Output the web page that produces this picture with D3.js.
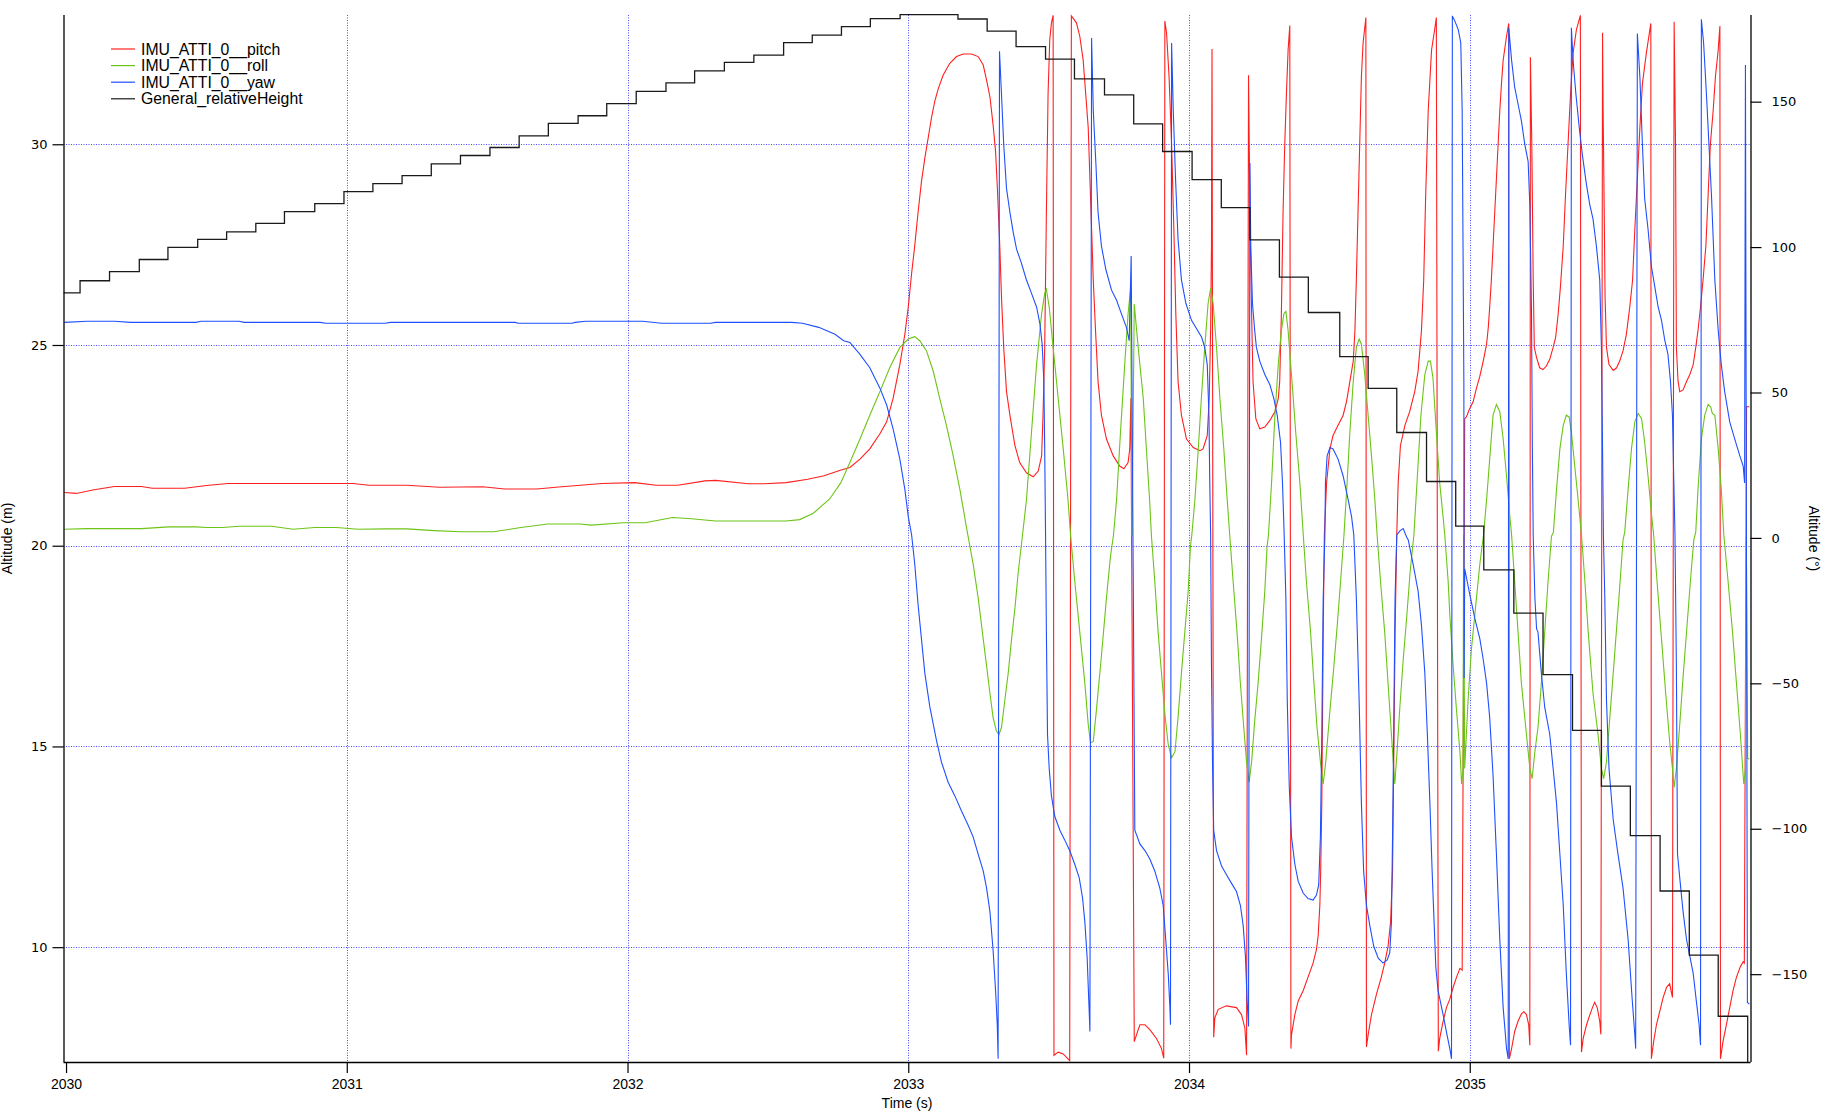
<!DOCTYPE html>
<html><head><meta charset="utf-8">
<script src="https://cdn.jsdelivr.net/npm/d3@7/dist/d3.min.js"></script>
<style>html,body{margin:0;padding:0;background:#fff}svg{display:block}</style>
</head><body>
<script>
const xTicks=[2030,2031,2032,2033,2034,2035];
const leftTicks=[10,15,20,25,30];
const rightTicks=[-150,-100,-50,0,50,100,150];
const seriesNames=["IMU_ATTI_0__pitch","IMU_ATTI_0__roll","IMU_ATTI_0__yaw","General_relativeHeight"];

const heightData=[[2029.99,26.30],[2030.050,26.60],[2030.155,26.83],[2030.261,27.13],[2030.363,27.43],[2030.469,27.63],[2030.572,27.82],[2030.676,28.03],[2030.778,28.32],[2030.886,28.52],[2030.990,28.82],[2031.093,29.02],[2031.197,29.22],[2031.301,29.51],[2031.405,29.72],[2031.510,29.92],[2031.614,30.21],[2031.718,30.52],[2031.824,30.71],[2031.926,31.01],[2032.031,31.32],[2032.137,31.53],[2032.239,31.83],[2032.345,32.04],[2032.450,32.22],[2032.556,32.53],[2032.658,32.72],[2032.762,32.93],[2032.865,33.13],[2032.971,33.23],[2033.177,33.12],[2033.281,32.82],[2033.384,32.43],[2033.489,32.12],[2033.592,31.63],[2033.699,31.23],[2033.803,30.51],[2033.906,29.82],[2034.011,29.12],[2034.115,28.42],[2034.217,27.62],[2034.322,26.69],[2034.425,25.81],[2034.537,24.71],[2034.638,23.92],[2034.740,22.82],[2034.846,21.60],[2034.950,20.49],[2035.050,19.40],[2035.157,18.32],[2035.261,16.79],[2035.366,15.40],[2035.469,14.01],[2035.572,12.78],[2035.678,11.40],[2035.782,9.80],[2035.885,8.28],[2035.990,6.9],[2036.0,6.9]];

const pitchData=[[2029.994,15.6],[2030.037,15.3],[2030.095,16.5],[2030.172,17.7],[2030.269,17.7],[2030.307,17.1],[2030.423,17.1],[2030.500,18.0],[2030.577,18.7],[2030.925,18.7],[2031.021,18.7],[2031.079,18.1],[2031.214,18.1],[2031.330,17.4],[2031.484,17.6],[2031.562,16.8],[2031.677,16.8],[2031.755,17.5],[2031.832,18.1],[2031.909,18.7],[2032.025,19.0],[2032.102,18.1],[2032.179,18.1],[2032.276,19.6],[2032.314,19.8],[2032.430,18.6],[2032.488,18.6],[2032.565,19.0],[2032.642,20.2],[2032.700,21.4],[2032.758,23.3],
[2032.792,24.2],[2032.828,27.1],[2032.863,30.6],[2032.899,35.8],[2032.923,39.9],[2032.946,48.0],[2032.970,59.6],[2032.988,70.1],[2033.000,79.4],[2033.012,91.0],[2033.023,100.4],[2033.035,112.0],[2033.047,122.5],[2033.059,130.6],[2033.071,137.6],[2033.083,144.6],[2033.095,150.4],[2033.107,154.5],[2033.124,159.1],[2033.148,163.2],[2033.172,165.5],[2033.196,166.4],[2033.225,166.4],[2033.249,165.5],[2033.267,162.6],[2033.279,157.4],[2033.291,151.6],[2033.302,142.2],[2033.311,132.9],[2033.318,119.0],[2033.326,100.4],[2033.332,82.9],[2033.340,65.5],[2033.350,50.3],[2033.362,42.2],[2033.380,31.7],[2033.397,25.9],[2033.421,22.4],[2033.445,21.0],[2033.463,23.0],[2033.475,28.2],[2033.480,42.2],[2033.486,65.5],[2033.492,112.0],[2033.498,152.7],[2033.504,171.3],[2033.510,177.1],[2033.516,179.7],
[2033.519,-177.9],[2033.534,-176.8],[2033.552,-177.4],[2033.569,-179.1],[2033.575,-179.7],
[2033.581,179.5],[2033.599,177.1],[2033.611,172.5],[2033.623,164.3],[2033.632,152.7],[2033.641,141.1],[2033.647,123.6],[2033.653,106.2],[2033.659,88.7],[2033.667,71.3],[2033.676,53.8],[2033.688,42.2],[2033.706,34.0],[2033.730,28.2],[2033.753,24.7],[2033.768,23.8],[2033.783,25.9],[2033.789,30.6],[2033.793,48.0],
[2033.805,-173.2],[2033.825,-167.4],[2033.843,-167.4],[2033.8605,-169.1],[2033.884,-172.1],[2033.902,-175.6],[2033.910,-178.9],
[2033.914,177.7],[2033.920,173.7],[2033.929,158.5],[2033.938,135.3],[2033.946,106.2],[2033.953,77.1],[2033.961,53.8],[2033.973,42.2],[2033.991,34.0],[2034.015,31.1],[2034.039,30.0],[2034.050,30.6],[2034.065,35.2],[2034.072,48.0],[2034.077,71.3],[2034.080,100.4],[2034.081,135.3],[2034.082,168.1],
[2034.088,-171.7],[2034.092,-165.0],[2034.104,-162.1],[2034.133,-160.9],[2034.169,-161.5],[2034.187,-163.9],[2034.199,-168.5],[2034.205,-177.9],
[2034.212,159.1],[2034.217,112.0],[2034.223,77.1],[2034.228,53.8],[2034.238,41.0],[2034.252,37.5],[2034.270,38.1],[2034.288,40.4],[2034.306,43.4],[2034.318,48.0],[2034.323,53.8],[2034.329,77.1],[2034.335,112.0],[2034.341,135.3],[2034.347,152.7],[2034.353,167.8],[2034.359,176.2],
[2034.363,-175.6],[2034.365,-170.9],[2034.377,-163.9],[2034.389,-159.2],[2034.407,-155.6],[2034.424,-151.0],[2034.442,-146.2],[2034.454,-141.5],[2034.460,-136.9],[2034.466,-126.3],[2034.469,-114.5],[2034.473,-91.1],[2034.475,-67.6],[2034.478,-32.4],[2034.482,1.0],[2034.490,18.9],[2034.502,30.6],[2034.513,35.2],[2034.531,38.7],[2034.549,42.2],[2034.561,46.9],[2034.573,53.8],[2034.585,60.8],[2034.591,71.3],[2034.596,88.7],[2034.602,112.0],[2034.608,135.3],[2034.614,158.5],[2034.620,170.2],[2034.630,178.9],
[2034.632,-175.0],[2034.638,-170.9],[2034.650,-163.9],[2034.668,-156.8],[2034.685,-151.0],[2034.697,-146.2],[2034.709,-140.4],[2034.718,-132.1],[2034.725,-114.5],[2034.729,-79.3],[2034.734,-32.4],[2034.740,1.0],[2034.745,18.9],[2034.753,31.7],[2034.769,38.7],[2034.786,43.4],[2034.804,50.3],[2034.816,57.3],[2034.828,71.3],[2034.836,88.7],[2034.843,117.8],[2034.852,146.9],[2034.864,167.8],[2034.875,174.8],[2034.881,178.9],
[2034.888,-176.5],[2034.893,-172.1],[2034.905,-166.2],[2034.917,-161.5],[2034.929,-158.6],[2034.941,-154.5],[2034.953,-151.0],[2034.965,-148.0],[2034.973,-148.6],
[2034.982,41.0],[2034.988,41.6],[2035.000,44.5],[2035.012,46.8],[2035.024,51.5],[2035.036,55.6],[2035.048,60.8],[2035.060,66.6],[2035.066,72.4],[2035.071,79.4],[2035.077,88.7],[2035.083,100.4],[2035.089,112.0],[2035.095,123.6],[2035.101,135.3],[2035.107,146.9],[2035.113,156.2],[2035.119,164.3],[2035.131,172.5],[2035.139,176.9],
[2035.141,-179.1],[2035.149,-175.6],[2035.160,-169.7],[2035.172,-166.2],[2035.184,-163.6],[2035.193,-162.9],[2035.202,-163.9],[2035.210,-167.4],[2035.214,-174.4],
[2035.216,165.3],[2035.221,135.3],[2035.226,88.7],[2035.230,65.5],[2035.238,62.0],[2035.249,58.5],[2035.261,57.9],[2035.273,59.1],[2035.285,61.4],[2035.297,65.5],[2035.306,69.0],[2035.315,77.1],[2035.323,86.4],[2035.333,100.4],[2035.341,117.8],[2035.350,135.3],[2035.359,152.7],[2035.368,166.7],[2035.380,174.8],[2035.394,179.7],
[2035.398,-176.8],[2035.404,-172.1],[2035.416,-167.4],[2035.428,-163.9],[2035.437,-161.5],[2035.445,-159.7],[2035.454,-161.5],[2035.463,-166.2],[2035.467,-170.7],
[2035.473,173.7],[2035.475,146.9],[2035.479,112.0],[2035.482,82.9],[2035.487,65.5],[2035.496,59.6],[2035.511,57.6],[2035.523,58.5],[2035.534,60.8],[2035.546,64.3],[2035.558,70.1],[2035.570,79.4],[2035.580,88.7],[2035.588,106.2],[2035.597,123.6],[2035.606,141.1],[2035.615,156.2],[2035.629,166.7],[2035.645,176.9],
[2035.647,-179.1],[2035.655,-173.2],[2035.665,-167.4],[2035.677,-162.7],[2035.689,-158.0],[2035.701,-154.5],[2035.712,-153.3],[2035.722,-158.0],
[2035.728,177.5],[2035.733,135.3],[2035.736,65.5],[2035.742,53.8],[2035.748,50.3],[2035.760,50.9],[2035.772,53.8],[2035.784,56.2],[2035.796,59.6],[2035.805,65.5],[2035.813,71.3],[2035.822,79.4],[2035.831,88.7],[2035.841,100.4],[2035.849,117.8],[2035.857,135.3],[2035.867,146.9],[2035.875,158.5],[2035.885,167.8],[2035.891,176.0],
[2035.893,-179.1],[2035.902,-173.2],[2035.914,-167.4],[2035.926,-161.5],[2035.938,-155.6],[2035.950,-151.0],[2035.964,-147.4],[2035.974,-145.7],[2035.978,-146.2],[2035.986,45.1],[2035.996,45.1]];

const rollData=[[2029.994,3.0],[2030.076,3.2],[2030.269,3.2],[2030.365,3.8],[2030.462,3.8],[2030.500,3.6],[2030.558,3.6],[2030.616,4.0],[2030.732,4.0],[2030.809,3.0],[2030.886,3.6],[2030.963,3.6],[2031.041,3.0],[2031.137,3.1],[2031.214,3.1],[2031.311,2.5],[2031.407,2.1],[2031.523,2.1],[2031.620,3.6],[2031.716,4.8],[2031.832,4.8],[2031.870,4.4],[2031.986,5.2],[2032.063,5.2],[2032.160,7.0],[2032.218,6.7],[2032.314,5.8],[2032.565,5.8],[2032.613,6.3],[2032.662,8.5],[2032.720,13.4],[2032.760,19.0],
[2032.792,25.9],[2032.828,34.0],[2032.863,42.2],[2032.899,50.3],[2032.934,58.5],[2032.970,65.5],[2033.000,68.4],[2033.023,69.2],[2033.041,67.8],[2033.065,64.3],[2033.089,57.3],[2033.112,48.0],[2033.136,38.7],[2033.160,28.2],[2033.184,16.6],[2033.207,3.8],[2033.231,-8.9],[2033.249,-20.6],[2033.267,-34.7],[2033.279,-44.1],[2033.291,-53.5],[2033.302,-61.7],[2033.314,-66.4],[2033.323,-67.6],[2033.332,-65.2],[2033.344,-55.8],[2033.356,-46.5],[2033.368,-34.7],[2033.380,-24.1],[2033.391,-12.4],[2033.407,1.0],[2033.421,13.1],[2033.439,36.4],[2033.457,59.6],[2033.475,77.1],[2033.486,84.1],[2033.492,85.5],[2033.502,79.4],[2033.516,65.5],[2033.534,48.0],[2033.552,30.6],[2033.569,13.1],[2033.578,1.0],[2033.593,-14.8],[2033.611,-32.4],[2033.629,-50.0],[2033.641,-64.1],[2033.649,-70.5],[2033.659,-70.0],[2033.670,-59.4],[2033.688,-40.6],[2033.706,-20.6],[2033.720,-6.5],[2033.731,1.0],[2033.742,13.1],[2033.756,36.4],[2033.771,59.6],[2033.783,77.1],[2033.792,85.8],[2033.797,0.5],[2033.805,80.4],[2033.819,65.5],[2033.837,48.0],[2033.852,24.7],[2033.860,12.5],[2033.866,1.0],[2033.878,-14.8],[2033.890,-32.4],[2033.902,-46.5],[2033.914,-60.5],[2033.926,-71.1],[2033.938,-75.6],[2033.950,-73.5],[2033.961,-61.7],[2033.973,-46.5],[2033.985,-32.4],[2033.997,-18.3],[2034.005,-3.0],[2034.010,1.0],[2034.021,13.1],[2034.033,30.6],[2034.044,48.0],[2034.056,65.5],[2034.068,80.6],[2034.077,85.8],[2034.086,80.6],[2034.098,65.5],[2034.110,48.0],[2034.124,30.6],[2034.136,13.1],[2034.145,1.0],[2034.157,-14.8],[2034.171,-32.4],[2034.183,-50.0],[2034.195,-65.2],[2034.205,-77.0],[2034.214,-84.0],[2034.223,-77.0],[2034.234,-62.9],[2034.246,-50.0],[2034.258,-34.7],[2034.270,-18.3],[2034.278,-3.0],[2034.283,1.0],[2034.294,18.9],[2034.306,42.2],[2034.318,59.6],[2034.329,71.3],[2034.338,77.1],[2034.345,77.9],[2034.353,71.3],[2034.365,56.2],[2034.380,36.4],[2034.395,18.9],[2034.407,1.0],[2034.418,-14.8],[2034.433,-32.4],[2034.445,-50.0],[2034.456,-65.2],[2034.468,-77.0],[2034.478,-84.6],[2034.487,-77.0],[2034.501,-60.5],[2034.516,-44.1],[2034.528,-30.0],[2034.540,-14.8],[2034.552,1.0],[2034.563,18.9],[2034.573,36.4],[2034.585,53.8],[2034.596,65.5],[2034.606,68.4],[2034.614,66.6],[2034.626,56.2],[2034.638,42.2],[2034.650,28.2],[2034.662,13.1],[2034.670,1.0],[2034.682,-14.8],[2034.697,-32.4],[2034.709,-50.0],[2034.721,-67.6],[2034.733,-84.6],[2034.741,-73.5],[2034.751,-58.2],[2034.763,-41.8],[2034.776,-26.5],[2034.788,-11.2],[2034.801,1.0],[2034.812,18.9],[2034.826,42.2],[2034.840,56.2],[2034.852,60.8],[2034.860,60.8],[2034.869,55.0],[2034.881,36.4],[2034.893,18.9],[2034.905,7.3],[2034.911,1.0],[2034.923,-14.8],[2034.929,-26.5],[2034.941,-44.1],[2034.953,-59.4],[2034.965,-73.5],[2034.971,-84.6],[2034.976,-79.3],[2034.978,1.0],[2034.982,-79.3],[2034.994,-55.8],[2035.006,-38.2],[2035.024,-20.6],[2035.036,-8.9],[2035.049,1.0],[2035.060,13.1],[2035.071,27.1],[2035.083,42.2],[2035.095,45.9],[2035.107,43.4],[2035.119,34.0],[2035.131,21.3],[2035.143,7.3],[2035.149,1.0],[2035.160,-14.8],[2035.172,-32.4],[2035.184,-50.0],[2035.202,-67.6],[2035.214,-79.3],[2035.222,-82.8],[2035.232,-73.5],[2035.243,-65.2],[2035.255,-50.0],[2035.267,-32.4],[2035.279,-14.8],[2035.291,0.5],[2035.298,2.0],[2035.309,16.6],[2035.321,30.6],[2035.333,38.7],[2035.344,42.2],[2035.354,41.6],[2035.362,36.4],[2035.374,24.7],[2035.386,13.1],[2035.398,1.0],[2035.410,-14.8],[2035.422,-32.4],[2035.439,-53.5],[2035.457,-67.6],[2035.469,-79.3],[2035.477,-82.8],[2035.487,-77.0],[2035.499,-61.7],[2035.511,-46.5],[2035.522,-32.4],[2035.534,-17.1],[2035.546,-0.7],[2035.552,2.0],[2035.564,16.6],[2035.576,30.6],[2035.588,39.9],[2035.600,42.8],[2035.612,41.0],[2035.623,32.9],[2035.635,21.3],[2035.647,8.5],[2035.655,1.0],[2035.667,-14.8],[2035.683,-34.7],[2035.698,-53.5],[2035.712,-69.9],[2035.722,-79.3],[2035.728,-85.8],[2035.736,-79.3],[2035.748,-64.1],[2035.760,-47.6],[2035.774,-30.0],[2035.786,-14.8],[2035.798,-0.7],[2035.805,2.0],[2035.813,16.6],[2035.825,34.0],[2035.837,42.2],[2035.849,45.9],[2035.858,45.1],[2035.864,42.8],[2035.873,42.2],[2035.885,30.6],[2035.896,16.6],[2035.905,1.0],[2035.920,-14.8],[2035.936,-32.4],[2035.950,-50.0],[2035.964,-67.6],[2035.976,-84.6],[2035.982,-79.3],[2035.985,0.5],[2035.990,-75.8],[2035.996,-76.0]];

const yawData=[[2029.994,74.1],[2030.076,74.5],[2030.172,74.5],[2030.230,74.1],[2030.462,74.1],[2030.481,74.5],[2030.616,74.5],[2030.635,74.1],[2030.905,74.1],[2030.925,73.8],[2031.137,73.8],[2031.156,74.1],[2031.600,74.1],[2031.610,73.8],[2031.803,73.8],[2031.813,74.1],[2031.851,74.5],[2032.054,74.5],[2032.121,73.8],[2032.295,73.8],[2032.314,74.1],[2032.585,74.1],[2032.623,73.8],[2032.681,72.4],[2032.739,70.0],[2032.770,67.8],
[2032.792,67.2],[2032.828,63.1],[2032.863,58.5],[2032.899,51.5],[2032.923,45.7],[2032.946,37.5],[2032.970,27.1],[2032.988,16.6],[2033.000,7.3],[2033.012,1.0],[2033.023,-8.9],[2033.035,-23.0],[2033.047,-34.7],[2033.059,-46.5],[2033.077,-58.2],[2033.101,-69.9],[2033.118,-77.0],[2033.142,-84.0],[2033.166,-88.7],[2033.190,-94.0],[2033.213,-98.7],[2033.231,-102.8],[2033.249,-108.7],[2033.267,-114.5],[2033.279,-120.4],[2033.291,-128.6],[2033.302,-141.5],[2033.311,-155.6],[2033.317,-167.4],[2033.320,-179.1],
[2033.325,167.3],[2033.332,152.7],[2033.340,135.3],[2033.350,120.1],[2033.362,112.0],[2033.374,105.0],[2033.386,99.2],[2033.403,94.5],[2033.421,88.7],[2033.439,84.1],[2033.457,79.4],[2033.469,73.6],[2033.477,66.6],[2033.483,53.8],[2033.486,30.6],[2033.489,1.0],[2033.492,-32.4],[2033.496,-67.6],[2033.502,-79.3],[2033.510,-88.7],[2033.522,-95.8],[2033.540,-100.5],[2033.558,-104.0],[2033.575,-107.5],[2033.593,-112.2],[2033.609,-116.9],[2033.621,-123.9],[2033.629,-132.1],[2033.637,-143.9],[2033.644,-161.5],[2033.647,-169.7],
[2033.653,171.9],[2033.659,146.9],[2033.668,129.4],[2033.676,112.0],[2033.688,100.4],[2033.704,92.2],[2033.724,85.2],[2033.742,81.7],[2033.759,77.1],[2033.777,72.4],[2033.787,67.8],[2033.794,96.9],[2033.807,-100.5],[2033.825,-105.2],[2033.843,-107.5],[2033.8605,-110.4],[2033.878,-114.5],[2033.896,-120.4],[2033.908,-126.3],[2033.917,-138.0],[2033.926,-149.8],[2033.932,-161.5],[2033.934,-167.4],
[2033.938,170.2],[2033.944,146.9],[2033.952,123.6],[2033.961,102.7],[2033.973,88.7],[2033.989,80.6],[2034.009,74.8],[2034.027,71.9],[2034.045,69.0],[2034.056,65.5],[2034.065,59.6],[2034.071,42.2],[2034.074,18.9],[2034.077,1.0],[2034.080,-44.1],[2034.084,-79.3],[2034.088,-100.5],[2034.098,-107.5],[2034.116,-112.8],[2034.133,-115.7],[2034.151,-118.7],[2034.169,-121.6],[2034.183,-126.3],[2034.193,-133.3],[2034.201,-143.9],[2034.207,-159.2],[2034.212,-168.0],
[2034.217,128.9],[2034.220,100.4],[2034.226,80.6],[2034.234,71.3],[2034.240,65.5],[2034.252,60.8],[2034.270,56.2],[2034.288,52.7],[2034.302,48.0],[2034.314,42.2],[2034.326,32.9],[2034.333,18.9],[2034.339,1.0],[2034.345,-20.6],[2034.350,-55.8],[2034.357,-85.2],[2034.365,-102.8],[2034.377,-112.2],[2034.389,-118.1],[2034.407,-122.2],[2034.424,-124.0],[2034.442,-124.5],[2034.454,-122.8],[2034.462,-119.2],[2034.468,-102.8],[2034.473,-67.6],[2034.478,-20.6],[2034.484,1.0],[2034.486,18.9],[2034.492,28.2],[2034.502,31.1],[2034.513,30.6],[2034.531,27.1],[2034.549,21.3],[2034.567,13.1],[2034.579,7.3],[2034.587,1.0],[2034.596,-20.6],[2034.606,-55.8],[2034.614,-91.1],[2034.622,-114.5],[2034.632,-126.3],[2034.644,-133.3],[2034.658,-140.4],[2034.674,-144.5],[2034.691,-146.2],[2034.706,-145.1],[2034.715,-142.7],[2034.721,-132.1],[2034.725,-102.8],[2034.729,-67.6],[2034.734,-20.6],[2034.740,1.0],[2034.752,2.5],[2034.763,3.2],[2034.775,0.3],[2034.781,-0.7],[2034.798,-8.9],[2034.816,-18.3],[2034.828,-30.0],[2034.840,-46.5],[2034.849,-67.6],[2034.858,-91.1],[2034.866,-114.5],[2034.873,-132.1],[2034.879,-147.4],[2034.887,-155.6],[2034.905,-163.9],[2034.919,-170.9],[2034.929,-175.6],[2034.935,-179.1],
[2034.938,179.5],[2034.947,177.7],[2034.959,174.8],[2034.968,170.2],[2034.973,146.9],[2034.976,100.4],[2034.979,53.8],[2034.980,-48.2],[2034.982,-10.6],[2035.000,-19.4],[2035.018,-27.7],[2035.036,-34.7],[2035.048,-41.8],[2035.060,-50.0],[2035.071,-61.7],[2035.083,-81.7],[2035.095,-108.7],[2035.107,-138.0],[2035.119,-161.5],[2035.131,-175.6],[2035.137,-179.1],
[2035.139,175.4],[2035.149,164.3],[2035.160,155.0],[2035.172,149.2],[2035.184,143.4],[2035.196,135.3],[2035.208,129.4],[2035.214,114.3],[2035.220,77.1],[2035.223,30.6],[2035.226,1.0],[2035.232,-20.6],[2035.238,-31.2],[2035.243,-32.4],[2035.255,-46.5],[2035.267,-58.2],[2035.285,-67.6],[2035.297,-79.3],[2035.309,-91.1],[2035.321,-108.7],[2035.333,-126.3],[2035.344,-149.8],[2035.354,-167.4],[2035.359,-174.4],
[2035.362,175.4],[2035.368,164.3],[2035.378,152.7],[2035.390,141.1],[2035.401,131.8],[2035.416,121.3],[2035.428,114.3],[2035.439,109.7],[2035.451,100.4],[2035.463,88.7],[2035.469,65.5],[2035.473,30.6],[2035.476,1.0],[2035.481,-20.6],[2035.487,-55.8],[2035.496,-79.3],[2035.511,-96.9],[2035.528,-108.7],[2035.546,-120.4],[2035.564,-138.0],[2035.579,-159.2],[2035.588,-170.9],[2035.591,-175.6],
[2035.597,173.4],[2035.606,158.5],[2035.615,135.3],[2035.623,116.7],[2035.635,106.2],[2035.647,93.4],[2035.659,86.4],[2035.671,79.4],[2035.683,74.8],[2035.695,67.8],[2035.706,63.1],[2035.715,53.8],[2035.722,42.2],[2035.727,18.9],[2035.731,1.0],[2035.736,-44.1],[2035.740,-108.7],[2035.748,-116.9],[2035.760,-128.6],[2035.772,-138.0],[2035.784,-143.9],[2035.796,-149.8],[2035.807,-159.2],[2035.817,-167.4],[2035.822,-174.4],
[2035.825,178.3],[2035.833,170.2],[2035.843,152.7],[2035.852,135.3],[2035.861,117.8],[2035.873,88.7],[2035.885,71.3],[2035.896,59.6],[2035.908,50.3],[2035.926,39.9],[2035.944,34.0],[2035.962,28.2],[2035.974,24.7],[2035.979,18.9],[2035.982,162.6],[2035.989,-159.7],[2035.996,-160.3]];

const W=1836,H=1114;
const L=63.5,R=1750.5,T=15,B=1062;
const svg=d3.select("body").append("svg").attr("width",W).attr("height",H);
svg.append("rect").attr("width",W).attr("height",H).attr("fill","#fff");

const x=d3.scaleLinear().domain([2029.991,2036.0]).range([L,R]);
const yL=d3.scaleLinear().domain([7.14,33.22]).range([B,T]);
const yR=d3.scaleLinear().domain([-180.2,179.8]).range([B,T]);

const gridColor="#4b4bff";
const grid=svg.append("g").attr("stroke",gridColor).attr("stroke-width",1).attr("stroke-dasharray","1,1.5");
grid.selectAll("line.v").data(xTicks.filter(d=>d>2030)).enter().append("line")
  .attr("x1",d=>Math.round(x(d))+0.5).attr("x2",d=>Math.round(x(d))+0.5).attr("y1",T).attr("y2",B);
grid.selectAll("line.h").data(leftTicks).enter().append("line")
  .attr("y1",d=>Math.round(yL(d))+0.5).attr("y2",d=>Math.round(yL(d))+0.5).attr("x1",L).attr("x2",R);

svg.append("defs").append("clipPath").attr("id","clip").append("rect")
  .attr("x",L).attr("y",T-2).attr("width",R-L).attr("height",B-T+2);

const plot=svg.append("g").attr("clip-path","url(#clip)");
const lineR=d3.line().x(d=>x(d[0])).y(d=>yR(d[1]));
const lineH=d3.line().x(d=>x(d[0])).y(d=>yL(d[1])).curve(d3.curveStepAfter);
const colors={pitch:"#ff1f1f",roll:"#6cc417",yaw:"#1f4fff",height:"#1a1a1a"};
plot.append("path").datum(pitchData).attr("d",lineR).attr("fill","none").attr("stroke",colors.pitch).attr("stroke-width",1.1);
plot.append("path").datum(rollData).attr("d",lineR).attr("fill","none").attr("stroke",colors.roll).attr("stroke-width",1.1);
plot.append("path").datum(yawData).attr("d",lineR).attr("fill","none").attr("stroke",colors.yaw).attr("stroke-width",1.1);
plot.append("path").datum(heightData).attr("d",lineH).attr("fill","none").attr("stroke",colors.height).attr("stroke-width",1.3);

const axL=svg.append("g").attr("transform",`translate(${L},0)`)
  .call(d3.axisLeft(yL).tickValues(leftTicks).tickSize(11).tickPadding(5).tickFormat(d3.format("d")));
const axB=svg.append("g").attr("transform",`translate(0,${B})`)
  .call(d3.axisBottom(x).tickValues(xTicks).tickSize(11).tickPadding(6).tickFormat(d3.format("d")));
const axR=svg.append("g").attr("transform",`translate(${R},0)`)
  .call(d3.axisRight(yR).tickValues(rightTicks).tickSize(11).tickPadding(10).tickFormat(d3.format("d")));
[axL,axB,axR].forEach(a=>{
  a.select(".domain").attr("stroke","#000").attr("stroke-width",1.3);
  a.selectAll(".tick line").attr("stroke","#000").attr("stroke-width",1.2);
  a.selectAll(".tick text").attr("fill","#000");
});
axL.select(".domain").attr("d",`M0.5,${T}V${B}`);
axR.select(".domain").attr("d",`M0.5,${T}V${B}`);
axB.select(".domain").attr("d",`M${L},0.5H${R}`);
axL.selectAll(".tick text").attr("font-family","DejaVu Sans").attr("font-size",13);
axR.selectAll(".tick text").attr("font-family","DejaVu Sans").attr("font-size",13);
axB.selectAll(".tick text").attr("font-family","Liberation Sans, Arial").attr("font-size",14);

svg.append("text").attr("x",(L+R)/2).attr("y",1108).attr("text-anchor","middle")
  .attr("font-family","Liberation Sans, Arial").attr("font-size",14).text("Time (s)");
svg.append("text").attr("transform",`translate(12,${(T+B)/2}) rotate(-90)`).attr("text-anchor","middle")
  .attr("font-family","Liberation Sans, Arial").attr("font-size",14).text("Altitude (m)");
svg.append("text").attr("transform",`translate(1809,${(T+B)/2}) rotate(90)`).attr("text-anchor","middle")
  .attr("font-family","Liberation Sans, Arial").attr("font-size",14).text("Altitude (°)");

const legColors=[colors.pitch,colors.roll,colors.yaw,colors.height];
const leg=svg.append("g");
seriesNames.forEach((n,i)=>{
  const yy=49+i*16.6;
  leg.append("line").attr("x1",111).attr("x2",135).attr("y1",yy).attr("y2",yy).attr("stroke",legColors[i]).attr("stroke-width",1.2);
  leg.append("text").attr("x",141).attr("y",yy).attr("dy","0.36em").attr("font-family","Liberation Sans, Arial").attr("font-size",15.8).text(n);
});
</script>
</body></html>
